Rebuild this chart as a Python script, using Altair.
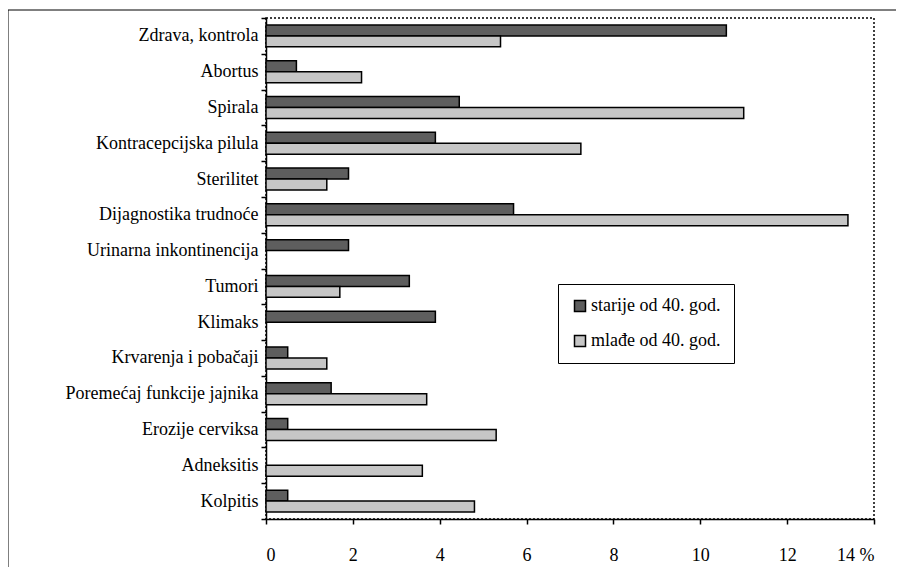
import altair as alt
import pandas as pd

categories = [
    "Zdrava, kontrola", "Abortus", "Spirala", "Kontracepcijska pilula",
    "Sterilitet", "Dijagnostika trudnoće", "Urinarna inkontinencija",
    "Tumori", "Klimaks", "Krvarenja i pobačaji",
    "Poremećaj funkcije jajnika", "Erozije cerviksa", "Adneksitis", "Kolpitis",
]
series = ["starije od 40. god.", "mlađe od 40. god."]
starije = [10.6, 0.7, 4.45, 3.9, 1.9, 5.7, 1.9, 3.3, 3.9, 0.5, 1.5, 0.5, None, 0.5]
mlade = [5.4, 2.2, 11.0, 7.25, 1.4, 13.4, None, 1.7, None, 1.4, 3.7, 5.3, 3.6, 4.8]
x_ticks = [0, 2, 4, 6, 8, 10, 12, 14]

rows = []
for c, a, b in zip(categories, starije, mlade):
    if a is not None:
        rows.append({"cat": c, "series": series[0], "value": a})
    if b is not None:
        rows.append({"cat": c, "series": series[1], "value": b})
df = pd.DataFrame(rows)

FONT = "'Times New Roman', 'Liberation Serif', 'DejaVu Serif', serif"

bars = alt.Chart(df).mark_bar(stroke="black", strokeWidth=1.5).encode(
    y=alt.Y(
        "cat:N", sort=categories,
        scale=alt.Scale(paddingInner=0, paddingOuter=0),
        axis=alt.Axis(title=None, tickBand="extent", tickSize=5, labelPadding=3,
                      labelLimit=300),
    ),
    yOffset=alt.YOffset(
        "series:N", sort=series,
        scale=alt.Scale(paddingInner=0, paddingOuter=0.63),
    ),
    x=alt.X(
        "value:Q",
        scale=alt.Scale(domain=[0, 14], nice=False),
        axis=alt.Axis(values=x_ticks, title=None, grid=False, tickSize=5,
                      labelPadding=22,
                      labelExpr="datum.value == 14 ? '14 %' : datum.label"),
    ),
    color=alt.Color(
        "series:N",
        scale=alt.Scale(domain=series, range=["#5e5e5e", "#c6c6c6"]),
        legend=alt.Legend(
            title=None, orient="none", legendX=292, legendY=266,
            fillColor="white", strokeColor="black", padding=13,
            rowPadding=17, symbolType="square", symbolSize=121,
            symbolStrokeColor="black", symbolStrokeWidth=1.5,
            symbolOpacity=1,
            labelFont=FONT, labelFontSize=18, labelColor="black",
            labelOffset=2,
            labelExpr="datum.label + '\u00a0\u00a0\u00a0\u00a0\u00a0'",
        ),
    ),
)

one = pd.DataFrame({"a": [0]})
vline = alt.Chart(one).mark_rule(color="black", strokeWidth=1).encode(
    x=alt.value(-258), y=alt.value(-8), y2=alt.value(620)
)
hline = alt.Chart(one).mark_rule(color="black", strokeWidth=1).encode(
    x=alt.value(-258), x2=alt.value(700), y=alt.value(-8)
)

chart = alt.layer(bars, vline, hline).properties(
    width=608, height=501,
    padding={"left": 258, "top": 10, "right": 22, "bottom": 48},
    autosize=alt.AutoSizeParams(type="none"),
).configure_view(
    stroke="black", strokeDash=[2, 2], strokeWidth=1.5
).configure_axis(
    domainColor="black", domainWidth=1.5, tickColor="black", tickWidth=1.5,
    labelFont=FONT, labelFontSize=18, labelColor="black",
)

chart.save("out.html", embed_options={"renderer": "svg", "actions": False})
